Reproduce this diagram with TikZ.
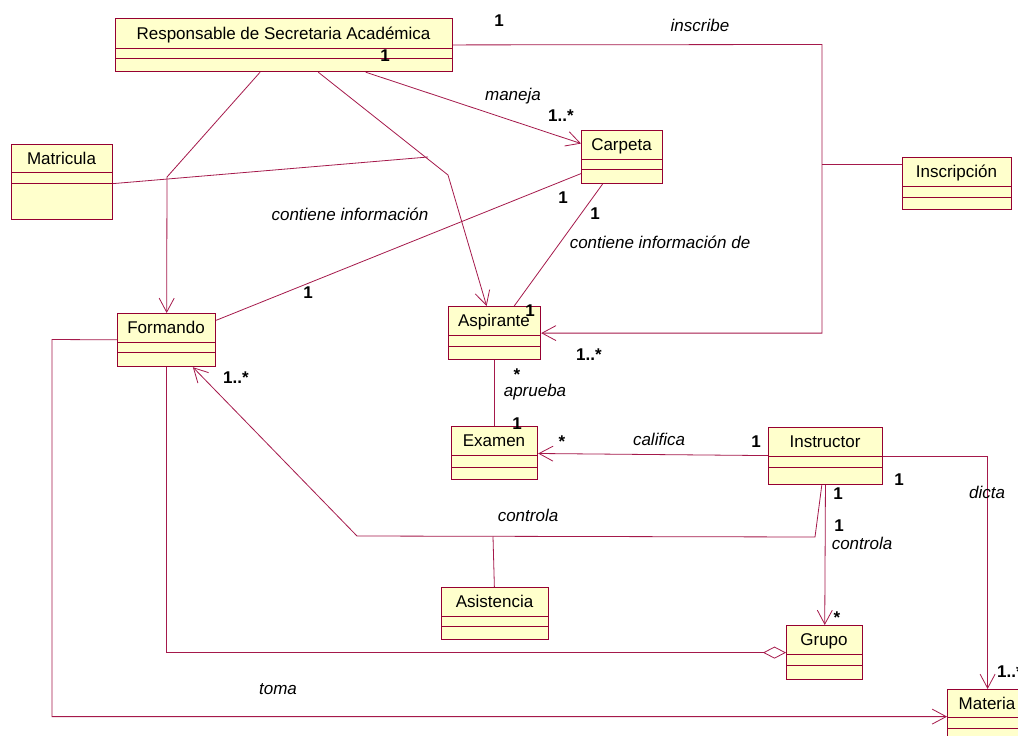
\documentclass[tikz,border=0pt]{standalone}
\usepackage{fontspec}
\setmainfont{Liberation Sans}
\usetikzlibrary{arrows.meta}
\definecolor{umlline}{RGB}{165,25,75}
\definecolor{umlborder}{RGB}{150,0,50}
\definecolor{umlfill}{RGB}{255,255,204}
\tikzset{
  clsbox/.style={draw=umlborder, fill=umlfill, line width=1.2pt, rectangle, inner sep=0pt},
  clssep/.style={draw=umlborder, line width=1pt},
  clsname/.style={inner sep=0pt, text height=12.2pt, text depth=0pt, font=\fontsize{17}{20}\selectfont},
  conn/.style={draw=umlline, line width=0.8pt},
  openarrow/.style={-{Straight Barb[length=14pt,width=15pt,line width=0.8pt]}},
  aggr/.style={-{Diamond[open,length=23pt,width=12pt,line width=0.8pt]}},
  lbl/.style={inner sep=0pt, text height=12.2pt, text depth=3.6pt, font=\fontsize{17}{20}\selectfont\itshape},
  mult/.style={inner sep=0pt, text height=12.2pt, text depth=0pt, font=\fontsize{17}{20}\selectfont\bfseries},
}
\newcommand{\umlclass}[8]{%
  \node[clsbox, anchor=north west, minimum width={(#4-#2)*1pt}, minimum height={(#5-#3)*1pt}] (#1) at (#2,#3) {};
  \draw[clssep] (#2,#6) -- (#4,#6);
  \draw[clssep] (#2,#7) -- (#4,#7);
  \node[clsname] (#1-name) at ({(#2+#4)/2},{(#3+#6)/2}) {#8};
}
\begin{document}
\begin{tikzpicture}[x=1pt, y=-1pt]
\clip (0,0) rectangle (1018,736);
\fill[white] (0,0) rectangle (1018,736);

% classes
\umlclass{resp}{115}{18}{452}{71}{48}{58}{Responsable de Secretaria Académica}
\umlclass{matr}{11}{144}{112}{219}{172}{183}{Matricula}
\umlclass{carp}{581}{130}{662}{183}{159}{169}{Carpeta}
\umlclass{insc}{902}{157}{1011}{209}{186}{197}{Inscripción}
\umlclass{form}{117}{313}{215}{366}{342}{352}{Formando}
\umlclass{aspi}{448}{306}{540}{359}{335}{346}{Aspirante}
\umlclass{exam}{451}{426}{537}{479}{455}{467}{Examen}
\umlclass{inst}{768}{427}{882}{484}{456}{467}{Instructor}
\umlclass{asis}{441}{587}{548}{639}{616}{626}{Asistencia}
\umlclass{grup}{786}{625}{862}{679}{654}{665}{Grupo}
\umlclass{mate}{947}{689}{1027}{743}{717}{728}{Materia}

% bend points
\coordinate (b-rf) at (167,177);
\coordinate (b-ra) at (448,175);
\coordinate (b-ri) at (822,44.5);
\coordinate (b-mj) at (428,157);
\coordinate (b-ij) at (822,164);
\coordinate (b-ic1) at (815,537);
\coordinate (b-ic2) at (357,536);
\coordinate (b-as) at (493,536.5);
\coordinate (b-t) at (52,339.5);

% connectors
\draw[conn, openarrow] (resp) -- (b-rf) -- (form);
\draw[conn, openarrow] (resp) -- (b-ra) -- (aspi);
\draw[conn, openarrow] (resp) -- (b-ri) |- (aspi);
\draw[conn] ([yshift=-1.5pt]matr.east) -- (b-mj);
\draw[conn] (b-ij) -- (b-ij -| insc.west);
\draw[conn, openarrow] (resp) -- (carp);
\draw[conn] (carp) -- (form);
\draw[conn] (carp) -- (aspi);
\draw[conn] (aspi) -- (exam);
\draw[conn, openarrow] (inst) -- (exam);
\draw[conn, openarrow] (inst) -- (b-ic1) -- (b-ic2) -- (form);
\draw[conn] (b-as) -- (asis);
\draw[conn, openarrow] (inst) -- (grup);
\draw[conn, openarrow] (inst) -| (mate);
\draw[conn, aggr] (form) |- (grup);
\draw[conn, openarrow] (form) -- (b-t) |- (mate);

% association labels
\node[lbl] (l-inscribe) at (700,27) {inscribe};
\node[lbl] (l-maneja) at (513,96) {maneja};
\node[lbl] (l-contiene1) at (350,216) {contiene información};
\node[lbl] (l-contiene2) at (660,244) {contiene información de};
\node[lbl] (l-aprueba) at (535,392) {aprueba};
\node[lbl] (l-califica) at (659,441) {califica};
\node[lbl] (l-controla1) at (528,517) {controla};
\node[lbl] (l-controla2) at (862,545) {controla};
\node[lbl] (l-dicta) at (987,494) {dicta};
\node[lbl] (l-toma) at (278,690) {toma};

% multiplicities
\node[mult] (m1) at (499,20) {1};
\node[mult] (m2) at (385,55) {1};
\node[mult] (m3) at (561,115) {1..*};
\node[mult] (m4) at (563,197) {1};
\node[mult] (m5) at (595,213) {1};
\node[mult] (m6) at (308,292) {1};
\node[mult] (m7) at (530,310) {1};
\node[mult] (m8) at (589,354) {1..*};
\node[mult] (m9) at (236,377) {1..*};
\node[mult] (m10) at (517,374) {*};
\node[mult] (m11) at (517,423) {1};
\node[mult] (m12) at (562,441) {*};
\node[mult] (m13) at (756,441) {1};
\node[mult] (m14) at (899,479) {1};
\node[mult] (m15) at (838,493) {1};
\node[mult] (m16) at (839,525) {1};
\node[mult] (m17) at (837,617) {*};
\node[mult, anchor=west] (m18) at (997,671) {1..*};
\end{tikzpicture}
\end{document}
